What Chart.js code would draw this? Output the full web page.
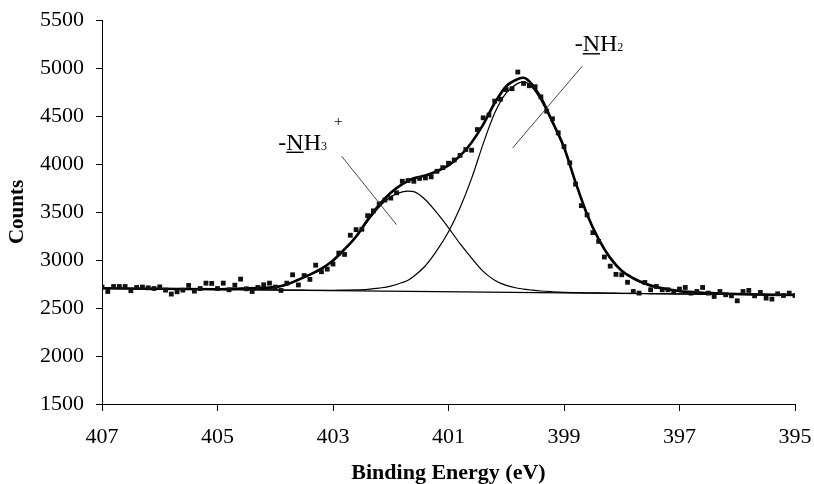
<!DOCTYPE html>
<html>
<head>
<meta charset="utf-8">
<script src="https://cdn.jsdelivr.net/npm/chart.js@4.4.0/dist/chart.umd.min.js"></script>
<style>
  html, body { margin: 0; padding: 0; background: #fff; }
  #wrap { width: 814px; height: 484px; }
</style>
</head>
<body>
<div id="wrap"><canvas id="xps" width="814" height="484"></canvas></div>
<script>
// --- MEASURED N 1s SPECTRUM: one point every 0.1 eV, from 407 eV down to 395 eV ---
const scanStart = 407;
const scanStep = 0.1;
const counts = [
  2718, 2672, 2724, 2724, 2724, 2680, 2714, 2718, 2710, 2703,
  2720, 2686, 2645, 2669, 2686, 2735, 2676, 2703, 2759, 2756,
  2703, 2759, 2690, 2738, 2801, 2700, 2672, 2714, 2742, 2759,
  2718, 2683, 2759, 2846, 2740, 2838, 2798, 2946, 2878, 2905,
  2958, 3072, 3058, 3258, 3316, 3320, 3462, 3512, 3585, 3625,
  3645, 3700, 3820, 3828, 3820, 3850, 3855, 3866, 3924, 3962,
  4008, 4042, 4090, 4151, 4144, 4359, 4481, 4510, 4655, 4675,
  4775, 4784, 4958, 4839, 4815, 4805, 4700, 4550, 4471, 4325,
  4182, 4012, 3790, 3566, 3469, 3285, 3194, 3031, 2936, 2850,
  2846, 2768, 2672, 2655, 2766, 2690, 2724, 2690, 2690, 2672,
  2697, 2714, 2655, 2672, 2714, 2655, 2620, 2672, 2638, 2627,
  2575, 2672, 2683, 2627, 2662, 2603, 2593, 2648, 2630, 2655, 2630
];

const fitEnergy = [
  407, 406, 405, 404.6, 404.2, 404, 403.8, 403.6, 403.4, 403.2, 403,
  402.8, 402.6, 402.4, 402.2, 402, 401.8, 401.7, 401.6, 401.4, 401.2, 401,
  400.8, 400.6, 400.4, 400.2, 400, 399.8, 399.7, 399.6, 399.4, 399.2, 399,
  398.8, 398.6, 398.4, 398.2, 398, 397.8, 397.6, 397.4, 397.2, 397,
  396.6, 396, 395
];
const envelope = [
  2705, 2700, 2695, 2703, 2710, 2718, 2745, 2795, 2848, 2910, 2995,
  3112, 3245, 3420, 3575, 3700, 3790, 3822, 3852, 3880, 3925, 3985,
  4085, 4225, 4410, 4635, 4810, 4885, 4899, 4860, 4690, 4440, 4175,
  3810, 3475, 3218, 3022, 2888, 2810, 2755, 2718, 2695, 2676,
  2659, 2646, 2635
];
const nh3Peak = [
  2705, 2699, 2694, 2700, 2705, 2713, 2740, 2793, 2845, 2905, 2988,
  3105, 3238, 3402, 3552, 3658, 3710, 3718, 3712, 3628, 3490, 3335,
  3170, 3020, 2882, 2790, 2735, 2706, 2697, 2690, 2677, 2669, 2663,
  2660, 2658, 2657, 2655, 2653, 2652, 2651, 2650, 2649, 2647,
  2645, 2641, 2635
];
const nh2Peak = [
  2705, 2699, 2693, 2691, 2689, 2688, 2687, 2686, 2685, 2684, 2684,
  2686, 2689, 2695, 2707, 2727, 2765, 2790, 2830, 2940, 3100, 3295,
  3545, 3850, 4210, 4530, 4740, 4840, 4853, 4830, 4665, 4425, 4160,
  3800, 3465, 3210, 3015, 2882, 2803, 2750, 2712, 2690, 2672,
  2656, 2644, 2635
];
const baselineEnergy = [407, 395];
const baselineCounts = [2705, 2635];

// --- AXES ---
const xTicks = [407, 405, 403, 401, 399, 397, 395];
const yTicks = [1500, 2000, 2500, 3000, 3500, 4000, 4500, 5000, 5500];

// --- PEAK LABELS (anchored in data units) ---
const peakLabels = [
  { at: [403.947, 4150], sub: '3', sup: '+', lead: [[402.85, 4081], [401.90, 3368]] },
  { at: [398.815, 5176], sub: '2', sup: null, lead: [[398.683, 5020], [399.888, 4168]] }
];

const FONT = '"Liberation Serif", "Times New Roman", serif';

const spectrum = counts.map((c, i) => ({ x: +(scanStart - i * scanStep).toFixed(1), y: c }));
const onGrid = arr => fitEnergy.map((e, i) => ({ x: e, y: arr[i] }));
const baseline = baselineEnergy.map((e, i) => ({ x: e, y: baselineCounts[i] }));

const peakLabelPlugin = {
  id: 'peakLabels',
  afterDatasetsDraw(chart) {
    const { ctx, scales: { x, y } } = chart;
    ctx.save();
    peakLabels.forEach(l => {
      // leader line
      ctx.strokeStyle = '#333';
      ctx.lineWidth = 0.9;
      ctx.beginPath();
      ctx.moveTo(x.getPixelForValue(l.lead[0][0]), y.getPixelForValue(l.lead[0][1]));
      ctx.lineTo(x.getPixelForValue(l.lead[1][0]), y.getPixelForValue(l.lead[1][1]));
      ctx.stroke();

      // -NHx text, N underlined
      let px = x.getPixelForValue(l.at[0]);
      const py = y.getPixelForValue(l.at[1]);
      ctx.fillStyle = '#000';
      ctx.textAlign = 'left';
      ctx.textBaseline = 'alphabetic';
      ctx.font = '24px ' + FONT;
      ctx.fillText('-', px, py);
      px += ctx.measureText('-').width;
      const nw = ctx.measureText('N').width;
      ctx.fillText('N', px, py);
      ctx.fillRect(px, py + 2, nw, 1.4);
      px += nw;
      ctx.fillText('H', px, py);
      px += ctx.measureText('H').width;
      ctx.font = '12px ' + FONT;
      ctx.fillText(l.sub, px, py);
      px += ctx.measureText(l.sub).width;
      if (l.sup) {
        ctx.font = '15px ' + FONT;
        ctx.fillText(l.sup, px + 7, py - 24);
      }
    });
    ctx.restore();
  }
};

const ctx = document.getElementById('xps').getContext('2d');
new Chart(ctx, {
  type: 'line',
  data: {
    datasets: [
      {
        label: 'Measured',
        data: spectrum,
        showLine: false,
        pointStyle: 'rect',
        pointRadius: 3.4,
        pointBackgroundColor: '#111',
        pointBorderWidth: 0
      },
      {
        label: 'Envelope',
        data: onGrid(envelope),
        borderColor: '#000',
        borderWidth: 2.6,
        pointRadius: 0,
        cubicInterpolationMode: 'monotone'
      },
      {
        label: '-NH3+',
        data: onGrid(nh3Peak),
        borderColor: '#000',
        borderWidth: 1.2,
        pointRadius: 0,
        cubicInterpolationMode: 'monotone'
      },
      {
        label: '-NH2',
        data: onGrid(nh2Peak),
        borderColor: '#000',
        borderWidth: 1.2,
        pointRadius: 0,
        cubicInterpolationMode: 'monotone'
      },
      {
        label: 'Baseline',
        data: baseline,
        borderColor: '#000',
        borderWidth: 1.3,
        pointRadius: 0
      }
    ]
  },
  options: {
    responsive: false,
    animation: false,
    devicePixelRatio: 1,
    layout: { padding: { top: 20, right: 19, bottom: 0, left: 0 } },
    plugins: {
      legend: { display: false },
      tooltip: { enabled: false }
    },
    scales: {
      x: {
        type: 'linear',
        reverse: true,
        min: 395,
        max: 407,
        afterBuildTicks: s => { s.ticks = xTicks.map(v => ({ value: v })); },
        afterFit: s => { s.height = 80; s.paddingLeft = 0; s.paddingRight = 0; },
        grid: { drawOnChartArea: false, drawTicks: true, tickLength: 7, color: '#000', lineWidth: 1 },
        border: { display: true, color: '#000', width: 1 },
        ticks: { color: '#000', font: { family: FONT, size: 22 }, padding: 13, maxRotation: 0, autoSkip: false, callback: v => String(v) },
        title: {
          display: true,
          text: 'Binding Energy (eV)',
          color: '#000',
          font: { family: FONT, size: 22, weight: 'bold', lineHeight: 1 },
          padding: { top: 0, bottom: 0 }
        }
      },
      y: {
        type: 'linear',
        min: 1500,
        max: 5500,
        afterBuildTicks: s => { s.ticks = yTicks.map(v => ({ value: v })); },
        afterFit: s => { s.width = 102; s.paddingTop = 0; s.paddingBottom = 0; },
        grid: { drawOnChartArea: false, drawTicks: true, tickLength: 6, color: '#000', lineWidth: 1 },
        border: { display: true, color: '#000', width: 1 },
        ticks: { color: '#000', font: { family: FONT, size: 22 }, padding: 12, autoSkip: false, callback: v => String(v) },
        title: {
          display: true,
          text: 'Counts',
          color: '#000',
          font: { family: FONT, size: 21, weight: 'bold', lineHeight: 1 },
          padding: { top: 7, bottom: 0 }
        }
      }
    }
  },
  plugins: [peakLabelPlugin]
});
</script>
</body>
</html>
